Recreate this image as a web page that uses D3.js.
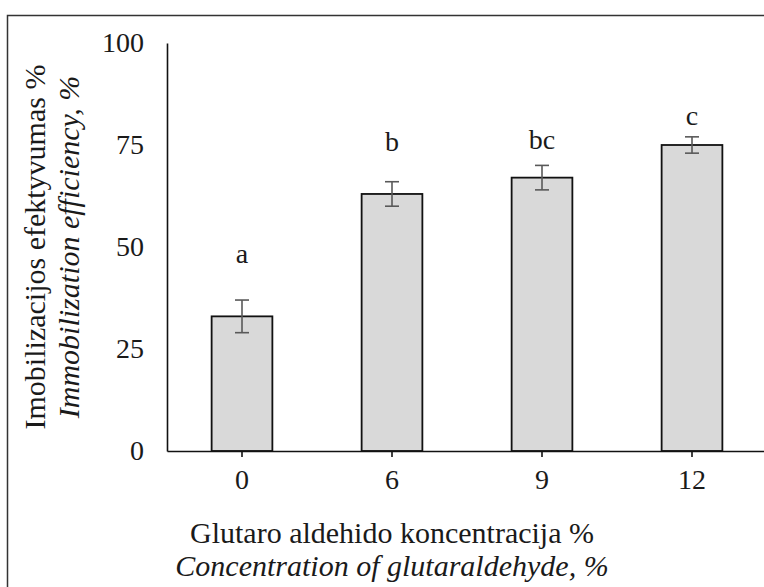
<html>
<head>
  <style>
    body { margin: 0; background: white; }
    svg { display: block; }
    text, tspan { font-family: "Liberation Serif", "DejaVu Serif", serif; fill: #1a1a1a; }
  </style>
  <script src="https://cdn.jsdelivr.net/npm/d3@7"></script>
</head>
<body>
  <svg id="chart"></svg>
</body>
<script>
  // data
  let categories = ["0", "6", "9", "12"]
  let values = [33, 63, 67, 75]
  let errors = [4, 3, 3, 2]
  let letters = ["a", "b", "bc", "c"]
  let letterLevels = [46, 73.5, 74, 80]   // where the letters sit, in % units
  let yTicks = [0, 25, 50, 75, 100]

  let serif = "'Liberation Serif', 'DejaVu Serif', serif"
  let width = 764, height = 587
  let margin = { top: 43, left: 167, bottom: 136, right: -3 }

  let svg = d3.select("#chart").attr("width", width).attr("height", height)

  // outer frame (only top and left visible in the picture)
  svg.append("rect")
    .attr("x", 7.5).attr("y", 15.5)
    .attr("width", 800).attr("height", 700)
    .attr("fill", "none").attr("stroke", "#333").attr("stroke-width", 1.5)

  let x = d3.scaleBand()
    .domain(categories)
    .range([margin.left, width - margin.right])
    .padding(0)

  let y = d3.scaleLinear()
    .domain([0, 100])
    .range([height - margin.bottom, margin.top])

  let data = categories.map((c, i) => ({ cat: c, v: values[i], e: errors[i], l: letters[i], ly: letterLevels[i] }))
  let barW = x.bandwidth() * 0.405

  // bars
  svg.selectAll(".bar").data(data).enter().append("rect")
    .attr("class", "bar")
    .attr("x", d => x(d.cat) + x.bandwidth() / 2 - barW / 2)
    .attr("y", d => y(d.v))
    .attr("width", barW)
    .attr("height", d => y(0) - y(d.v))
    .attr("fill", "#d9d9d9")
    .attr("stroke", "#111")
    .attr("stroke-width", 1.8)

  // error bars
  let cx = d => x(d.cat) + x.bandwidth() / 2
  let err = svg.append("g").attr("stroke", "#595959").attr("stroke-width", 1.6)
  err.selectAll(".stem").data(data).enter().append("line")
    .attr("x1", cx).attr("x2", cx)
    .attr("y1", d => y(d.v + d.e)).attr("y2", d => y(d.v - d.e))
  err.selectAll(".capTop").data(data).enter().append("line")
    .attr("x1", d => cx(d) - 7).attr("x2", d => cx(d) + 7)
    .attr("y1", d => y(d.v + d.e)).attr("y2", d => y(d.v + d.e))
  err.selectAll(".capBot").data(data).enter().append("line")
    .attr("x1", d => cx(d) - 7).attr("x2", d => cx(d) + 7)
    .attr("y1", d => y(d.v - d.e)).attr("y2", d => y(d.v - d.e))

  // significance letters
  svg.selectAll(".letter").data(data).enter().append("text")
    .attr("x", cx)
    .attr("y", d => y(d.ly))
    .attr("text-anchor", "middle")
    .attr("font-family", serif)
    .attr("font-size", 28)
    .text(d => d.l)

  // axes
  let axisY = d3.axisLeft(y).tickValues(yTicks).tickSize(0).tickPadding(23)
  let gy = svg.append("g").attr("transform", `translate(${margin.left},0)`).call(axisY)
  gy.attr("font-family", serif)
  gy.select(".domain").attr("stroke", "#111").attr("stroke-width", 1.6)
  gy.selectAll("text").attr("font-size", 28).attr("fill", "#1a1a1a")
    .attr("font-family", serif)

  let axisX = d3.axisBottom(x).tickSizeInner(6).tickSizeOuter(0).tickPadding(12)
  let gx = svg.append("g").attr("transform", `translate(0,${y(0)})`).call(axisX)
  gx.attr("font-family", serif)
  gx.select(".domain").attr("stroke", "#111").attr("stroke-width", 1.6)
  gx.selectAll("line").attr("stroke", "#111").attr("stroke-width", 1.6)
  gx.selectAll("text").attr("font-size", 28).attr("fill", "#1a1a1a")
    .attr("font-family", serif)

  // axis titles
  let xt = svg.append("text").attr("text-anchor", "middle").attr("font-size", 30)
    .attr("font-family", serif)
  xt.append("tspan").attr("x", 392).attr("y", 543).text("Glutaro aldehido koncentracija %")
  xt.append("tspan").attr("x", 392).attr("y", 576).attr("font-style", "italic")
    .text("Concentration of glutaraldehyde, %")

  let yt = svg.append("text").attr("text-anchor", "middle").attr("font-size", 30)
    .attr("font-family", serif)
    .attr("transform", `translate(0,${(y(0) + y(100)) / 2}) rotate(-90)`)
  yt.append("tspan").attr("x", 0).attr("y", 45).text("Imobilizacijos efektyvumas %")
  yt.append("tspan").attr("x", 0).attr("y", 79).attr("font-style", "italic")
    .text("Immobilization efficiency, %")
</script>
</html>
